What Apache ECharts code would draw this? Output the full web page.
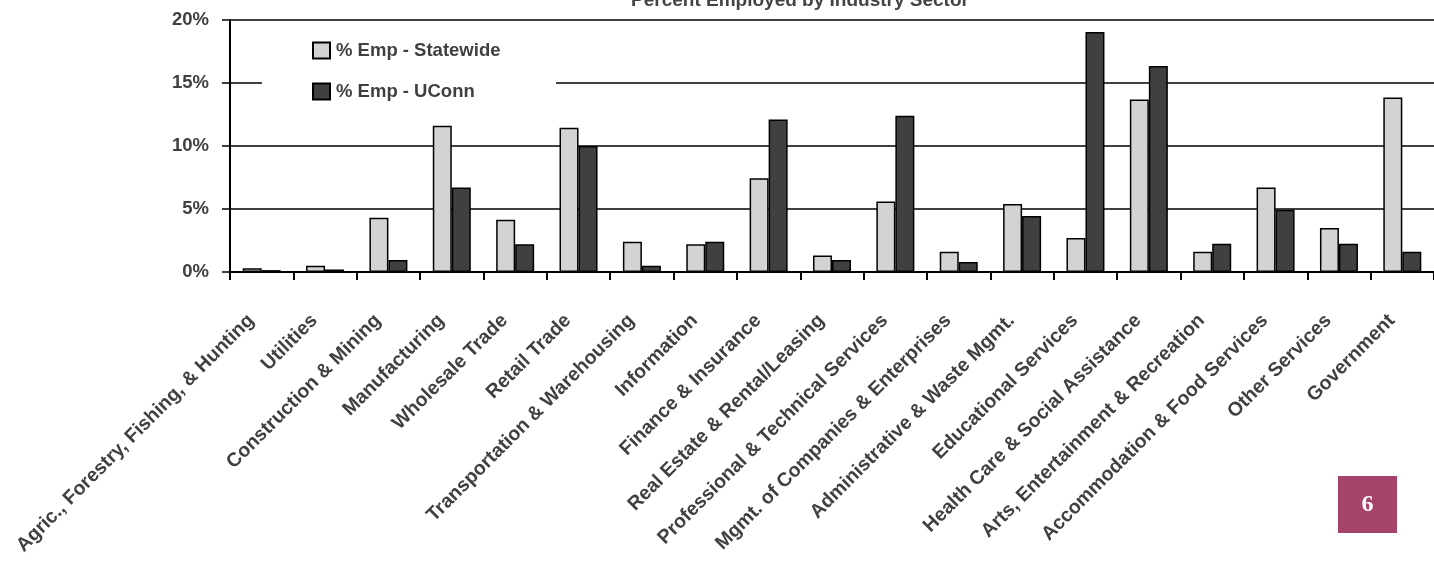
<!DOCTYPE html>
<html>
<head>
<meta charset="utf-8">
<script src="https://cdn.jsdelivr.net/npm/echarts@6/dist/echarts.min.js"></script>
<style>
html,body{margin:0;padding:0;background:#fff;}
#chart{width:1434px;height:566px;}
</style>
</head>
<body>
<div id="chart"></div>
<script>
const categories = [
  "Agric., Forestry, Fishing, & Hunting",
  "Utilities",
  "Construction & Mining",
  "Manufacturing",
  "Wholesale Trade",
  "Retail Trade",
  "Transportation & Warehousing",
  "Information",
  "Finance & Insurance",
  "Real Estate & Rental/Leasing",
  "Professional & Technical Services",
  "Mgmt. of Companies & Enterprises",
  "Administrative & Waste Mgmt.",
  "Educational Services",
  "Health Care & Social Assistance",
  "Arts, Entertainment & Recreation",
  "Accommodation & Food Services",
  "Other Services",
  "Government"
];
const statewide = [0.3, 0.5, 4.3, 11.6, 4.15, 11.45, 2.4, 2.2, 7.45, 1.3, 5.6, 1.6, 5.4, 2.7, 13.7, 1.6, 6.7, 3.5, 13.85];
const uconn = [0.15, 0.2, 0.95, 6.7, 2.2, 10.0, 0.5, 2.4, 12.1, 0.95, 12.4, 0.8, 4.45, 19.05, 16.35, 2.25, 4.95, 2.25, 1.6];
const seriesNames = ["% Emp - Statewide", "% Emp - UConn"];
const titleText = "Percent Employed by Industry Sector";
const pageNumber = "6";

const FONT = "'Liberation Sans', Arial, sans-serif";
const TXT = "#404040";

const chart = echarts.init(document.getElementById('chart'), null, {renderer: 'canvas'});
chart.setOption({
  animation: false,
  backgroundColor: '#ffffff',
  grid: {left: 230, right: 0, top: 20, bottom: 294, containLabel: false},
  legend: {
    orient: 'vertical',
    left: 307,
    top: 36,
    z: 10,
    icon: 'rect',
    itemWidth: 17,
    itemHeight: 16,
    itemGap: 22,
    padding: 5,
    data: seriesNames,
    textStyle: {fontFamily: FONT, fontSize: 18.5, fontWeight: 'bold', color: TXT, padding: [0, 0, 0, 1]}
  },
  xAxis: {
    type: 'category',
    data: categories,
    axisLine: {lineStyle: {color: '#000', width: 2}},
    axisTick: {show: true, length: 8, lineStyle: {color: '#000', width: 2}},
    axisLabel: {interval: 0, rotate: 45, margin: 35, padding: [0, 15, 0, 0], fontFamily: FONT, fontSize: 19.5, fontWeight: 'bold', color: TXT},
    splitLine: {show: false}
  },
  yAxis: {
    type: 'value',
    min: 0,
    max: 20,
    interval: 5,
    axisLine: {show: true, lineStyle: {color: '#000', width: 2}},
    axisTick: {show: true, length: 8, lineStyle: {color: '#000', width: 1.5}},
    axisLabel: {formatter: '{value}%', margin: 21, fontFamily: FONT, fontSize: 18.5, fontWeight: 'bold', color: TXT},
    splitLine: {show: true, lineStyle: {color: '#000', width: 1.5}}
  },
  series: [
    {
      name: seriesNames[0],
      type: 'bar',
      data: statewide,
      barWidth: 19,
      barGap: '0%',
      itemStyle: {color: '#d3d3d3', borderColor: '#000', borderWidth: 1.5}
    },
    {
      name: seriesNames[1],
      type: 'bar',
      data: uconn,
      barWidth: 19,
      barGap: '0%',
      itemStyle: {color: '#404040', borderColor: '#000', borderWidth: 1.5}
    }
  ],
  graphic: [
    {type: 'rect', z: 5, shape: {x: 262, y: 72, width: 294, height: 22}, style: {fill: '#ffffff'}},
    {type: 'text', z: 5, style: {text: titleText, x: 800, y: 10, align: 'center', verticalAlign: 'bottom', fontFamily: FONT, fontSize: 19, fontWeight: 'bold', fill: '#444444'}},
    {type: 'rect', z: 5, shape: {x: 1338, y: 476, width: 59, height: 57}, style: {fill: '#a5436b'}},
    {type: 'text', z: 6, style: {text: pageNumber, x: 1367.5, y: 505, align: 'center', verticalAlign: 'middle', fontFamily: "'Liberation Serif', 'DejaVu Serif', serif", fontWeight: 'bold', fontSize: 24, fill: '#ffffff'}}
  ]
});
</script>
</body>
</html>
